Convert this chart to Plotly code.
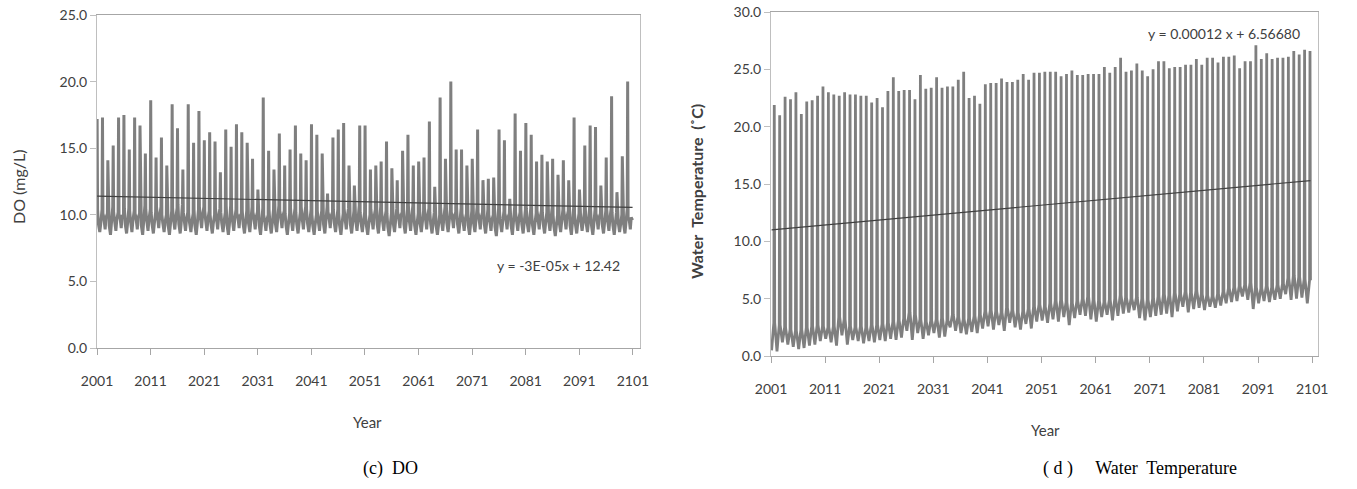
import plotly.graph_objects as go

W, H = 1357, 489
years = list(range(2001, 2101))

# ---- DO (mg/L): annual winter peak, base level, mid level, summer low ----
do_peak = [17.2, 17.3, 14.1, 15.2, 17.3, 17.5, 14.9, 17.3, 16.7, 14.6,
           18.6, 14.3, 15.8, 13.7, 18.3, 16.5, 13.4, 18.3, 15.4, 17.8,
           15.6, 16.2, 15.5, 13.2, 16.4, 15.1, 16.8, 16.2, 15.4, 14.2,
           11.9, 18.8, 14.8, 13.4, 16.1, 13.7, 14.9, 16.7, 14.6, 14.1,
           16.8, 16.0, 14.6, 11.6, 15.8, 16.4, 16.9, 13.7, 12.2, 16.7,
           16.7, 13.4, 13.7, 14.0, 15.5, 13.5, 12.6, 14.8, 16.0, 13.7,
           14.0, 14.3, 17.0, 12.1, 18.8, 14.2, 20.0, 14.9, 14.9, 13.7,
           14.2, 16.4, 12.6, 12.7, 12.8, 16.4, 15.6, 11.2, 17.6, 14.8,
           16.9, 16.0, 14.0, 14.5, 14.0, 14.2, 13.0, 14.1, 12.6, 17.3,
           11.9, 15.2, 16.7, 16.6, 12.2, 14.3, 18.9, 11.7, 14.4, 20.0]
do_base = [10.4, 10.1, 10.6, 10.2, 10.0, 10.5, 10.3, 10.1, 10.7, 10.4,
           10.2, 10.6, 10.0, 10.3, 10.5, 10.8, 10.2, 10.1, 10.4, 10.6,
           10.3, 10.0, 10.5, 10.2, 10.7, 10.4, 10.1, 10.3, 10.6, 10.2,
           10.5, 10.0, 10.4, 10.7, 10.3, 10.1, 10.5, 10.2, 10.6, 10.4,
           10.0, 10.3, 10.6, 10.2, 10.4, 10.1, 10.5, 10.3, 10.7, 10.2,
           10.0, 10.4, 10.6, 10.3, 10.1, 10.5, 10.2, 10.4, 10.7, 10.1,
           10.3, 10.5, 10.2, 10.0, 10.6, 10.4, 10.2, 10.5, 10.1, 10.3,
           10.6, 10.2, 10.4, 10.0, 10.5, 10.3, 10.1, 10.6, 10.2, 10.4,
           10.5, 10.1, 10.3, 10.2, 10.6, 10.0, 10.4, 10.3, 10.5, 10.1,
           10.2, 10.6, 10.4, 10.1, 10.3, 10.5, 10.2, 10.0, 10.4, 9.6]
do_mid = [9.3, 9.8, 9.2, 9.6, 9.9, 9.3, 9.5, 9.8, 9.2, 9.6,
          9.3, 9.9, 9.4, 9.2, 9.7, 9.3, 9.6, 9.4, 9.2, 9.9,
          9.6, 9.3, 9.8, 9.4, 9.2, 9.6, 9.9, 9.3, 9.4, 9.8,
          9.2, 9.6, 9.3, 9.4, 9.9, 9.2, 9.6, 9.3, 9.8, 9.4,
          9.2, 9.6, 9.3, 9.9, 9.4, 9.2, 9.8, 9.3, 9.6, 9.4,
          9.2, 9.8, 9.3, 9.6, 9.1, 9.4, 9.9, 9.3, 9.6, 9.2,
          9.4, 9.8, 9.3, 9.2, 9.6, 9.4, 9.9, 9.3, 9.6, 9.2,
          9.4, 9.8, 9.3, 9.6, 9.1, 9.4, 9.8, 9.2, 9.6, 9.3,
          9.4, 9.2, 9.8, 9.3, 9.6, 9.1, 9.4, 9.8, 9.2, 9.3,
          9.6, 9.4, 9.2, 9.8, 9.3, 9.6, 9.2, 9.4, 9.3, 9.8]
do_low = [8.7, 8.9, 8.5, 8.8, 9.0, 8.6, 8.7, 8.9, 8.5, 8.8,
          8.6, 9.0, 8.7, 8.5, 8.9, 8.6, 8.8, 8.7, 8.5, 9.0,
          8.8, 8.6, 8.9, 8.7, 8.5, 8.8, 9.0, 8.6, 8.7, 8.9,
          8.5, 8.8, 8.6, 8.7, 9.0, 8.5, 8.8, 8.6, 8.9, 8.7,
          8.5, 8.8, 8.6, 9.0, 8.7, 8.5, 8.9, 8.6, 8.8, 8.7,
          8.5, 8.9, 8.6, 8.8, 8.4, 8.7, 9.0, 8.6, 8.8, 8.5,
          8.7, 8.9, 8.6, 8.5, 8.8, 8.7, 9.0, 8.6, 8.8, 8.5,
          8.7, 8.9, 8.6, 8.8, 8.4, 8.7, 8.9, 8.5, 8.8, 8.6,
          8.7, 8.5, 8.9, 8.6, 8.8, 8.4, 8.7, 8.9, 8.5, 8.6,
          8.8, 8.7, 8.5, 8.9, 8.6, 8.8, 8.5, 8.7, 8.6, 8.9]
do_trend = [11.4, 10.55]  # trend line at start / end of record

# ---- Water temperature (°C): annual summer peak, level after peak, winter low ----
tw_peak = [21.9, 21.0, 22.6, 22.4, 23.0, 21.1, 22.2, 22.3, 22.7, 23.5,
           23.0, 22.8, 22.7, 23.0, 22.8, 22.8, 22.7, 22.7, 22.1, 22.5,
           21.7, 23.1, 24.3, 23.1, 23.2, 23.2, 22.4, 24.5, 23.3, 23.4,
           24.3, 23.4, 23.5, 23.5, 24.1, 24.8, 22.5, 22.7, 22.0, 23.7,
           23.8, 23.8, 24.2, 23.9, 23.9, 24.1, 24.6, 24.1, 24.7, 24.7,
           24.8, 24.8, 24.8, 24.4, 24.6, 24.9, 24.5, 24.5, 24.6, 24.6,
           24.6, 25.2, 24.7, 25.2, 26.0, 24.8, 24.9, 25.5, 24.9, 24.4,
           25.0, 25.7, 25.7, 25.1, 25.2, 25.2, 25.4, 25.4, 25.9, 25.4,
           26.0, 26.0, 25.6, 26.1, 26.1, 26.2, 25.1, 25.7, 25.7, 27.1,
           25.9, 26.4, 25.9, 26.0, 26.0, 26.1, 26.6, 26.3, 26.7, 26.6]
tw_hi = [2.9, 2.7, 2.5, 2.3, 2.2, 2.3, 2.5, 2.6, 2.7, 2.6,
         2.5, 2.6, 3.4, 3.2, 2.6, 2.5, 2.6, 2.5, 2.7, 2.7,
         2.8, 2.9, 3.0, 3.1, 3.3, 3.8, 3.6, 3.2, 3.0, 3.1,
         3.2, 3.3, 3.1, 3.6, 3.4, 3.2, 3.3, 3.5, 3.6, 3.9,
         4.0, 3.9, 3.8, 4.2, 4.0, 3.8, 3.9, 4.1, 4.3, 4.5,
         4.3, 4.6, 4.8, 4.9, 4.7, 4.6, 4.8, 5.0, 5.2, 4.9,
         4.8, 4.7, 4.9, 5.0, 5.3, 5.1, 5.0, 5.1, 5.0, 4.9,
         5.0, 5.2, 5.4, 5.3, 5.5, 5.4, 5.6, 5.5, 5.7, 5.4,
         5.3, 5.2, 5.4, 5.6, 5.9, 6.0, 6.1, 6.2, 6.4, 6.0,
         5.9, 6.1, 6.0, 6.2, 6.3, 6.8, 7.0, 6.9, 6.7, 6.6]
tw_lo = [0.5, 0.4, 1.2, 1.0, 0.8, 0.6, 0.7, 0.9, 1.0, 1.3,
         1.5, 1.2, 0.9, 1.8, 1.0, 1.4, 1.3, 1.1, 1.3, 1.2,
         1.4, 1.3, 1.5, 1.4, 1.6, 2.2, 1.4, 2.0, 1.5, 1.8,
         2.0, 1.6, 1.7, 2.5, 2.2, 2.0, 1.9, 2.1, 2.0, 2.4,
         2.6, 2.3, 2.7, 2.2, 2.9, 2.5, 2.3, 2.8, 2.4, 3.0,
         3.1, 2.9, 3.2, 3.0, 3.4, 2.7, 3.3, 3.6, 3.5, 3.2,
         3.0, 3.4, 3.6, 3.1, 3.5, 3.7, 3.8, 4.0, 3.3, 3.1,
         3.4, 3.5, 3.6, 3.7, 3.4, 3.9, 4.3, 3.8, 4.1, 4.2,
         4.0, 4.3, 4.2, 4.4, 4.6, 4.7, 4.8, 5.2, 4.9, 4.1,
         4.6, 4.8, 4.7, 4.9, 5.0, 5.4, 4.9, 5.0, 5.1, 4.6]
tw_trend = [11.0, 15.3]

x_ticks = list(range(2001, 2102, 10))
eq_do = "y = -3E-05x + 12.42"
eq_tw = "y = 0.00012 x + 6.56680"

# ---- build monthly-position series from the annual values ----
do_x, do_y = [], []
for i, yr in enumerate(years):
    for m, v in ((1, do_peak[i]), (2, do_base[i]), (4, do_mid[i]),
                 (7, do_low[i]), (9, do_mid[i]), (12, do_base[i])):
        do_x.append(f"{yr}-{m:02d}-10")
        do_y.append(v)

tw_x, tw_y = [], []
for i, yr in enumerate(years):
    for m, v in ((2, tw_lo[i]), (7, tw_hi[i]), (8, tw_peak[i]), (9, tw_hi[i])):
        tw_x.append(f"{yr}-{m:02d}-10")
        tw_y.append(v)

LINE = "#7f7f7f"
fig = go.Figure()
fig.add_trace(go.Scatter(x=do_x, y=do_y, mode="lines",
                         line=dict(color=LINE, width=3), xaxis="x", yaxis="y"))
fig.add_trace(go.Scatter(x=[do_x[0], do_x[-1]], y=do_trend, mode="lines",
                         line=dict(color="#404040", width=1.2), xaxis="x", yaxis="y"))
fig.add_trace(go.Scatter(x=tw_x, y=tw_y, mode="lines",
                         line=dict(color=LINE, width=2.8), xaxis="x2", yaxis="y2"))
fig.add_trace(go.Scatter(x=[tw_x[0], tw_x[-1]], y=tw_trend, mode="lines",
                         line=dict(color="#404040", width=1.2), xaxis="x2", yaxis="y2"))

def px(v):
    return v / W

def py(v):
    return 1 - v / H

tickfont = dict(family="Lato, Carlito, sans-serif", size=14, color="#404040")
common_x = dict(type="date", tickmode="array",
                tickvals=[f"{y}-01-01" for y in x_ticks],
                ticktext=[str(y) for y in x_ticks],
                ticks="outside", ticklen=6, tickcolor="#a6a6a6",
                showline=True, linecolor="#a6a6a6", linewidth=1, mirror=True,
                showgrid=False, zeroline=False, tickfont=tickfont,
                ticklabelstandoff=14, automargin=False)
common_y = dict(tickformat=".1f", dtick=5, ticks="outside", ticklen=6,
                tickcolor="#bfbfbf", showline=True, linecolor="#bfbfbf",
                linewidth=1, mirror=True, showgrid=False, zeroline=False,
                tickfont=tickfont, automargin=False)

fig.update_layout(
    width=W, height=H, margin=dict(l=0, r=0, t=0, b=0, autoexpand=False),
    paper_bgcolor="white", plot_bgcolor="white", showlegend=False,
    xaxis=dict(domain=[px(97), px(640)], range=["2001-01-01", "2102-05-01"],
               anchor="y", **common_x),
    yaxis=dict(domain=[py(348), py(15)], range=[0, 25], anchor="x", **common_y),
    xaxis2=dict(domain=[px(771), px(1318)], range=["2001-01-01", "2102-02-01"],
                anchor="y2", **common_x),
    yaxis2=dict(domain=[py(356), py(12)], range=[0, 30], anchor="x2", **common_y),
)

ann = []
def add_text(x, y, text, size=13, family="Lato, sans-serif", angle=0,
             color="#404040", xanchor="center"):
    ann.append(dict(x=px(x), y=py(y), xref="paper", yref="paper", text=text,
                    showarrow=False, textangle=angle, xanchor=xanchor,
                    yanchor="middle", font=dict(family=family, size=size, color=color)))

add_text(367, 422, "Year", size=15)
add_text(1045, 430, "Year", size=15)
add_text(18, 187, "DO (mg/L)", size=16, angle=-90)
add_text(697, 192, "<b>Water  Temperature  (˚C)</b>", size=16, angle=-90)
add_text(622, 265, eq_do, size=14, xanchor="right")
add_text(1302, 33, eq_tw, size=14, xanchor="right")
add_text(390, 468, "(c)  DO", size=18, family="Liberation Serif, serif", color="#000000")
add_text(1140, 468, "( d )     Water  Temperature", size=18,
         family="Liberation Serif, serif", color="#000000")
fig.update_layout(annotations=ann)

fig.write_html("out.html")
